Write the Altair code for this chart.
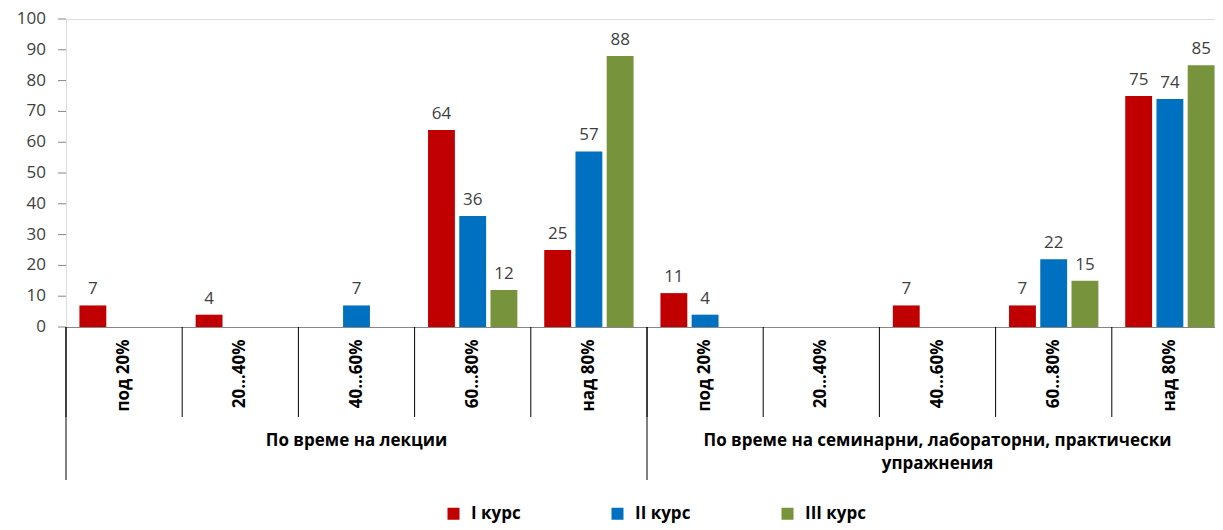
import altair as alt
import pandas as pd

group_labels = ["По време на лекции",
                "По време на семинарни, лабораторни, практически\nупражнения"]
bins = ["под 20%", "20…40%", "40…60%", "60…80%", "над 80%"]
series = ["I курс", "II курс", "III курс"]
colors = ["#C00000", "#0070C0", "#77933C"]
y_ticks = [0, 10, 20, 30, 40, 50, 60, 70, 80, 90, 100]

# values per category: group 1 (5 bins) then group 2 (5 bins)
course1 = [7, 4, 0, 64, 25, 11, 0, 7, 7, 75]
course2 = [0, 0, 7, 36, 57, 4, 0, 0, 22, 74]
course3 = [0, 0, 0, 12, 88, 0, 0, 0, 15, 85]

keys = [f"{g}{i}|{b}" for g in "AB" for i, b in enumerate(bins, 1)]
rows = []
for k, a, b, c in zip(keys, course1, course2, course3):
    for s, v in zip(series, (a, b, c)):
        rows.append({"key": k, "series": s, "value": v})
df = pd.DataFrame(rows)
df_nz = df[df["value"] > 0]

FONT = "Open Sans"
H = 308
AXIS_GRAY = "#868686"

x_main = alt.X(
    "key:N", sort=keys,
    scale=alt.Scale(paddingInner=0, paddingOuter=0),
    axis=alt.Axis(title=None, labelExpr="split(datum.label, '|')[1]",
                  labelAngle=270, labelFontWeight="bold", labelFontSize=17,
                  labelColor="#000000", labelPadding=12, ticks=False,
                  domainColor=AXIS_GRAY, labelFont=FONT),
)
xoff = alt.XOffset("series:N", sort=series,
                   scale=alt.Scale(paddingInner=0.14, paddingOuter=0.43))
y_scale = alt.Scale(domain=[0, 100], nice=False)
y_main = alt.Y(
    "value:Q", scale=y_scale,
    axis=alt.Axis(title=None, grid=False, labels=False, ticks=False,
                  domainColor=AXIS_GRAY),
)

bars = alt.Chart(df_nz).mark_bar().encode(
    x=x_main, xOffset=xoff, y=y_main,
    color=alt.Color("series:N", sort=series,
                    scale=alt.Scale(domain=series, range=colors),
                    legend=alt.Legend(title=None, orient="none", legendX=379,
                                      legendY=486, direction="horizontal",
                                      symbolType="square", symbolSize=144,
                                      symbolStrokeWidth=0, labelFontSize=17,
                                      labelFontWeight="bold", labelColor="#000000",
                                      labelFont=FONT, columnPadding=88,
                                      labelOffset=9)),
)

labels = alt.Chart(df_nz).mark_text(
    baseline="bottom", dy=-7, fontSize=17, color="#404040", font=FONT
).encode(x=x_main, xOffset=xoff, y=y_main, text="value:Q")

# y axis ticks and labels (positions through the y scale)
yt_df = pd.DataFrame({"value": y_ticks})
y_tick_marks = alt.Chart(yt_df).mark_rule(color=AXIS_GRAY, strokeWidth=1).encode(
    y=alt.Y("value:Q", scale=y_scale, axis=None),
    x=alt.value(-8), x2=alt.value(0),
)
y_tick_labels = alt.Chart(yt_df).mark_text(
    align="right", baseline="middle", fontSize=17, color="#404040", font=FONT
).encode(
    y=alt.Y("value:Q", scale=y_scale, axis=None),
    x=alt.value(-20), text="value:Q",
)

sep_df = pd.DataFrame({"key": keys})
seps = alt.Chart(sep_df).mark_rule(color="#000000", strokeWidth=1).encode(
    x=alt.X("key:N", sort=keys, bandPosition=0),
    y=alt.value(H), y2=alt.value(H + 90),
)

grp_df = pd.DataFrame({"key": [keys[0], keys[5]]})
gseps = alt.Chart(grp_df).mark_rule(color="#000000", strokeWidth=1).encode(
    x=alt.X("key:N", sort=keys, bandPosition=0),
    y=alt.value(H), y2=alt.value(H + 153),
)

glab_df = pd.DataFrame({"key": [keys[2], keys[7]], "label": group_labels})
glabs = alt.Chart(glab_df).mark_text(
    fontSize=17, fontWeight="bold", color="#000000", font=FONT,
    lineBreak="\n", lineHeight=23, baseline="alphabetic",
).encode(x=alt.X("key:N", sort=keys), y=alt.value(H + 119), text="label:N")

chart = alt.layer(bars, labels, y_tick_marks, y_tick_labels,
                  seps, gseps, glabs).properties(
    width=1162, height=H,
    padding={"left": 58, "top": 11, "right": -13, "bottom": 199},
    autosize=alt.AutoSizeParams(type="none"),
).configure_view(stroke=None).configure(font=FONT)

chart.save("out.html", embed_options={"renderer": "svg", "actions": False})
